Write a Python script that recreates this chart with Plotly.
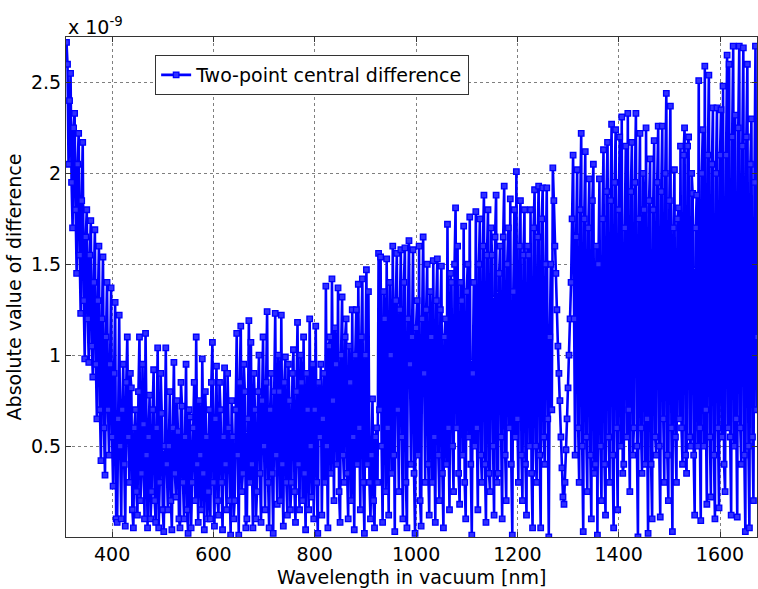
import plotly.graph_objects as go

# Absolute value of difference, in units of 1e-9.
# Each 100 nm block: "even" samples at 310+4k nm, "odd" samples at 312+4k nm.
WL_START = 310
WL_STEP = 2

even_310 = [2.72, 2.05, 2.55, 1.70, 2.33, 1.45, 2.22, 1.23, 2.17, 0.98,
            1.80, 0.96, 1.74, 0.88, 1.69, 0.65, 1.60, 0.42, 1.54, 0.34,
            1.40, 0.45, 1.37, 0.28, 1.29]
odd_310 = [2.60, 2.40, 1.95, 2.25, 1.80, 2.05, 1.55, 1.85, 1.30, 1.65,
           1.20, 1.55, 1.05, 1.40, 0.95, 1.30, 0.70, 1.20, 0.60, 1.10,
           0.70, 0.95, 0.55, 0.90, 0.10]
even_410 = [0.08, 1.22, 0.10, 0.95, 0.06, 1.10, 0.30, 0.82, 0.05, 0.70,
            0.12, 1.10, 0.35, 0.62, 1.12, 0.05, 0.78, 0.25, 0.92, 0.08,
            1.04, 0.30, 0.68, 0.03, 1.04]
odd_410 = [0.65, 0.50, 0.70, 0.40, 0.85, 0.55, 0.90, 0.15, 0.60, 0.25,
           0.80, 0.20, 0.95, 0.10, 0.45, 0.55, 0.10, 0.70, 0.20, 0.60,
           0.05, 0.90, 0.15, 0.50, 0.40]
even_510 = [0.15, 0.80, 0.04, 0.96, 0.22, 0.58, 0.05, 0.72, 0.10, 0.95,
            0.02, 0.66, 0.30, 0.85, 1.10, 0.08, 0.45, 0.98, 0.04, 0.55,
            0.25, 0.10, 1.07, 0.06, 0.94]
odd_510 = [0.50, 0.20, 0.60, 0.35, 0.75, 0.10, 0.85, 0.30, 0.55, 0.15,
           0.70, 0.05, 0.60, 0.20, 0.40, 0.75, 0.15, 0.35, 0.80, 0.10,
           0.70, 0.85, 0.30, 0.65, 0.20]
even_610 = [0.12, 0.70, 0.04, 0.93, 0.15, 0.60, 0.01, 0.55, 0.20, 1.12,
            0.01, 1.16, 0.35, 0.80, 0.10, 1.19, 1.07, 0.05, 0.70, 0.25,
            1.00, 0.08, 1.10, 0.15, 1.24]
odd_610 = [0.85, 0.30, 0.55, 0.40, 0.90, 0.20, 0.75, 0.10, 0.70, 0.45,
           0.85, 0.25, 0.95, 0.05, 0.65, 0.30, 0.40, 0.90, 0.10, 0.80,
           0.35, 0.75, 0.50, 0.85, 0.30]
even_710 = [0.05, 0.90, 0.02, 1.23, 0.18, 0.80, 1.22, 0.06, 0.99, 0.12,
            0.75, 0.30, 1.03, 0.08, 1.18, 0.15, 0.85, 1.10, 0.04, 0.70,
            1.20, 0.22, 0.10, 1.16, 0.02]
odd_710 = [0.70, 0.35, 0.80, 0.45, 1.00, 0.20, 0.40, 0.85, 0.30, 0.95,
           0.15, 0.90, 0.25, 0.80, 0.40, 1.00, 0.20, 0.35, 0.90, 0.15,
           0.50, 0.95, 0.70, 0.30, 0.85]
even_810 = [0.55, 0.12, 0.90, 1.38, 0.05, 1.10, 1.42, 0.20, 0.95, 1.37,
            0.08, 1.32, 0.30, 1.20, 0.10, 0.85, 1.25, 0.04, 1.25, 1.39,
            0.15, 1.42, 0.02, 1.47, 1.35]
odd_810 = [0.95, 0.65, 0.30, 0.50, 1.05, 0.35, 0.75, 1.15, 0.40, 0.25,
           1.00, 0.45, 1.10, 0.35, 1.05, 0.20, 0.55, 1.00, 0.40, 0.60,
           1.10, 0.30, 1.00, 0.40, 0.30]
even_910 = [0.10, 0.76, 0.05, 0.60, 1.56, 1.54, 0.08, 1.20, 1.53, 0.12,
            1.00, 1.60, 0.03, 1.56, 0.25, 1.58, 0.10, 1.59, 0.05, 1.63,
            0.40, 1.58, 0.02, 1.30, 1.60]
odd_910 = [0.45, 0.20, 0.55, 0.30, 0.70, 0.50, 1.35, 0.25, 0.60, 1.40,
           0.35, 0.45, 1.30, 0.70, 1.25, 0.55, 1.40, 0.30, 1.20, 0.95,
           1.10, 0.35, 1.15, 0.45, 0.20]
even_1010 = [0.06, 1.65, 0.30, 1.50, 0.12, 1.10, 1.52, 0.08, 1.53, 0.20,
             1.49, 0.05, 1.20, 1.72, 0.15, 1.40, 0.25, 1.81, 1.60, 0.18,
             1.30, 1.71, 0.10, 1.50, 1.76]
odd_1010 = [1.20, 0.90, 1.25, 0.40, 1.35, 0.30, 0.55, 1.30, 0.45, 1.25,
            0.35, 1.10, 0.40, 0.60, 1.45, 0.50, 1.50, 0.60, 0.35, 1.40,
            0.45, 0.30, 1.35, 0.55, 0.40]
even_1110 = [0.01, 1.40, 1.79, 0.15, 1.75, 0.30, 1.88, 0.08, 1.80, 0.25,
             1.55, 0.12, 1.88, 0.35, 1.60, 0.10, 1.93, 0.20, 1.70, 1.86,
             0.01, 1.80, 2.01, 0.30, 1.85]
odd_1110 = [0.90, 0.50, 0.60, 1.50, 0.45, 1.60, 0.40, 1.55, 0.35, 1.70,
            0.50, 1.65, 0.30, 1.45, 0.55, 1.65, 0.45, 1.50, 0.60, 0.40,
            1.35, 0.55, 0.65, 1.60, 0.45]
even_1210 = [0.20, 1.80, 0.12, 1.55, 1.80, 0.05, 1.91, 0.30, 1.93, 0.05,
             1.92, 0.40, 1.92, 0.00, 1.50, 2.03, 1.60, 1.25, 0.90, 0.55,
             0.22, 0.30, 0.65, 1.00, 1.40]
odd_1210 = [1.55, 0.40, 1.60, 0.50, 0.35, 1.70, 0.50, 1.65, 0.45, 1.75,
            0.55, 1.50, 0.65, 1.10, 0.70, 1.85, 1.45, 1.05, 0.75, 0.38,
            0.18, 0.48, 0.82, 1.20, 1.75]
even_1310 = [2.10, 0.45, 2.02, 0.30, 2.22, 0.03, 2.12, 0.25, 1.97, 0.10,
             2.05, 0.40, 0.01, 1.97, 0.20, 2.13, 0.12, 2.17, 0.30, 2.27,
             0.05, 2.24, 0.15, 2.20, 2.31]
odd_1310 = [1.20, 1.65, 0.60, 1.80, 0.50, 1.75, 0.55, 1.70, 0.45, 1.85,
            0.35, 1.60, 1.50, 0.50, 1.75, 0.40, 1.90, 0.55, 1.85, 0.45,
            1.95, 0.60, 1.80, 0.50, 0.35]
even_1410 = [0.40, 2.15, 2.33, 0.25, 2.17, 0.60, 2.33, 0.00, 2.22, 0.35,
             1.80, 2.25, 0.02, 2.08, 0.10, 2.18, 0.45, 2.26, 0.11, 2.26,
             0.30, 2.44, 0.20, 2.37, 0.03]
odd_1410 = [1.70, 0.55, 0.70, 1.90, 0.45, 1.95, 0.50, 1.75, 0.60, 2.00,
            0.40, 0.65, 1.85, 0.40, 1.80, 0.55, 1.95, 0.50, 1.90, 0.65,
            2.00, 0.45, 1.85, 0.60, 1.70]
even_1510 = [2.02, 0.30, 1.81, 2.15, 0.40, 2.25, 0.35, 2.20, 0.50, 1.89,
             0.12, 1.88, 2.51, 0.09, 2.24, 2.59, 0.18, 2.54, 0.22, 2.36,
             0.10, 2.36, 0.16, 2.35, 2.48]
odd_1510 = [0.55, 1.75, 0.65, 0.60, 2.10, 0.45, 2.15, 0.55, 2.00, 0.45,
            1.70, 0.50, 0.60, 2.00, 0.50, 0.70, 2.10, 0.55, 2.05, 0.45,
            2.00, 0.60, 2.10, 0.55, 0.40]
even_1610 = [0.25, 2.65, 2.60, 0.12, 2.70, 2.32, 0.11, 2.70, 0.40, 2.69,
             0.03, 2.60, 0.05, 2.30, 0.20, 2.70, 1.10]
odd_1610 = [2.10, 0.60, 0.55, 2.20, 0.50, 0.65, 2.25, 0.60, 2.15, 0.45,
            2.20, 0.50, 2.05, 0.55, 1.95, 0.70]

blocks = [(even_310, odd_310), (even_410, odd_410), (even_510, odd_510),
          (even_610, odd_610), (even_710, odd_710), (even_810, odd_810),
          (even_910, odd_910), (even_1010, odd_1010), (even_1110, odd_1110),
          (even_1210, odd_1210), (even_1310, odd_1310), (even_1410, odd_1410),
          (even_1510, odd_1510), (even_1610, odd_1610)]

values = []
for ev, od in blocks:
    for k, v in enumerate(ev):
        values.append(v)
        if k < len(od):
            values.append(od[k])
wavelength = [WL_START + WL_STEP * i for i in range(len(values))]

x_ticks = [400, 600, 800, 1000, 1200, 1400, 1600]
y_ticks = [0.5, 1, 1.5, 2, 2.5]
y_tick_text = ["0.5", "1", "1.5", "2", "2.5"]

FONT = "DejaVu Sans"
FS = 19
BLUE = "#0000ff"

fig = go.Figure()
fig.add_trace(go.Scatter(
    x=wavelength, y=values, mode="lines+markers",
    name="Two-point central difference",
    line=dict(color=BLUE, width=2.6),
    marker=dict(symbol="square", size=5.5, color="#3030ff",
                line=dict(color=BLUE, width=1.3)),
))

axis_common = dict(
    showline=True, linecolor="#333333", linewidth=1, mirror="ticks",
    ticks="inside", ticklen=5, tickcolor="#333333",
    showgrid=True, gridcolor="#7f7f7f", griddash="dot", gridwidth=1,
    zeroline=False, tickfont=dict(family=FONT, size=FS, color="black"),
)

PLOT_TOP, PLOT_BOTTOM = 37, 537
plot_h = PLOT_BOTTOM - PLOT_TOP

fig.update_layout(
    width=758, height=589,
    margin=dict(l=66, r=1, t=PLOT_TOP, b=589 - PLOT_BOTTOM),
    paper_bgcolor="white", plot_bgcolor="white",
    font=dict(family=FONT, size=FS, color="black"),
    xaxis=dict(range=[309, 1673], tickvals=x_ticks, automargin=False,
               **axis_common),
    yaxis=dict(range=[0, 2.75], tickvals=y_ticks, ticktext=y_tick_text,
               automargin=False,
               title=dict(text="Absolute value of difference", standoff=4,
                          font=dict(family=FONT, size=FS)),
               **axis_common),
    legend=dict(x=0.129, y=0.964, xanchor="left", yanchor="top",
                bgcolor="white", bordercolor="#333333", borderwidth=1,
                font=dict(family=FONT, size=FS), itemwidth=30,
                tracegroupgap=0),
    showlegend=True,
    annotations=[
        dict(text="x 10<sup>-9</sup>", x=0, y=1, xref="paper",
             yref="paper", xanchor="left", yanchor="bottom",
             showarrow=False, yshift=-3, font=dict(family=FONT, size=FS)),
        dict(text="Wavelength in vacuum [nm]", x=0.5,
             y=(PLOT_BOTTOM - 577) / plot_h, xref="paper",
             yref="paper", xanchor="center", yanchor="middle",
             showarrow=False, font=dict(family=FONT, size=FS)),
    ],
)

fig.write_html("out.html")
